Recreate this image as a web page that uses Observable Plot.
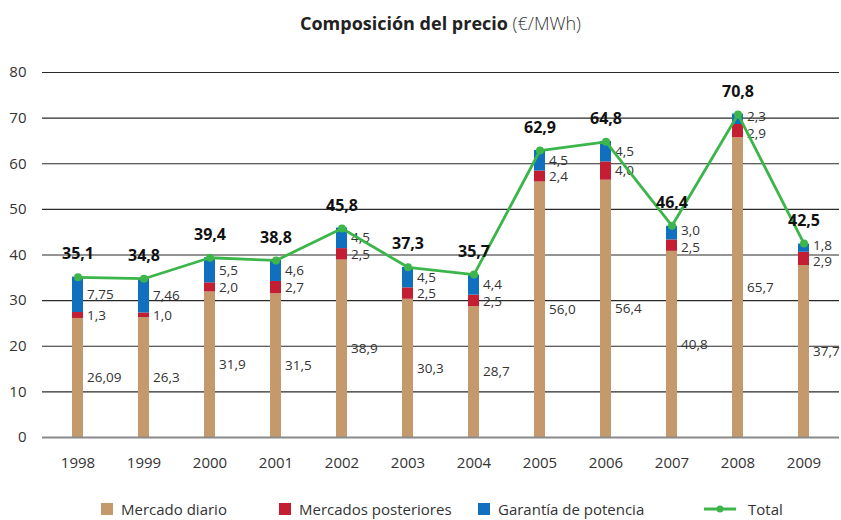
<!DOCTYPE html>
<html>
<head>
<meta charset="utf-8">
<script src="https://cdn.jsdelivr.net/npm/d3@7"></script>
<script src="https://cdn.jsdelivr.net/npm/@observablehq/plot@0.6"></script>
<style>
  body { margin: 0; background: #fff; font-family: "Open Sans", "Noto Sans", sans-serif; color: #222; }
  #title { height: 46px; line-height: 46px; text-align: center; font-size: 18px; color: #222; padding-left: 40px; box-sizing: border-box; width: 841px; }
  #title b { font-weight: 700; }
  #title span { font-weight: 300; color: #333; }
  #legend { position: relative; font-size: 15px; color: #333; height: 34px; }
  .item { position: absolute; display: flex; align-items: center; line-height: 18px; }
  .sw { width: 12px; height: 12px; margin-right: 8px; }
</style>
</head>
<body>
<div id="title"><b>Composición del precio</b> <span>(€/MWh)</span></div>
<div id="chart"></div>
<div id="legend"></div>
<script>
const years = ["1998","1999","2000","2001","2002","2003","2004","2005","2006","2007","2008","2009"];
const mercadoDiario = [26.09, 26.3, 31.9, 31.5, 38.9, 30.3, 28.7, 56.0, 56.4, 40.8, 65.7, 37.7];
const mercadosPosteriores = [1.3, 1.0, 2.0, 2.7, 2.5, 2.5, 2.5, 2.4, 4.0, 2.5, 2.9, 2.9];
const garantiaPotencia = [7.75, 7.46, 5.5, 4.6, 4.5, 4.5, 4.4, 4.5, 4.5, 3.0, 2.3, 1.8];
const total = [35.1, 34.8, 39.4, 38.8, 45.8, 37.3, 35.7, 62.9, 64.8, 46.4, 70.8, 42.5];
const seriesNames = ["Mercado diario", "Mercados posteriores", "Garantía de potencia"];
const seriesColors = ["#c49a6c", "#c41e33", "#1070bf"];
const totalColor = "#3cb54a";
const yTicks = [0, 10, 20, 30, 40, 50, 60, 70, 80];

const fmt = v => (Math.abs(v * 10 - Math.round(v * 10)) < 1e-9 ? v.toFixed(1) : v.toFixed(2)).replace(".", ",");

const seriesValues = [mercadoDiario, mercadosPosteriores, garantiaPotencia];
const segments = [];
const segLabels = [];
const minSep = 3.6; // minimum label separation in €/MWh units
years.forEach((yr, i) => {
  let base = 0;
  const mids = [];
  seriesValues.forEach((arr, s) => {
    const v = arr[i];
    segments.push({year: yr, series: seriesNames[s], y1: base, y2: base + v});
    mids.push(base + v / 2);
    base += v;
  });
  // keep the two upper labels from colliding
  if (mids[2] - mids[1] < minSep) {
    const c = (mids[1] + mids[2]) / 2;
    mids[1] = c - minSep / 2;
    mids[2] = c + minSep / 2;
  }
  seriesValues.forEach((arr, s) => segLabels.push({year: yr, y: mids[s], label: fmt(arr[i])}));
});
const totals = years.map((yr, i) => ({year: yr, total: total[i], label: fmt(total[i])}));

const chart = Plot.plot({
  width: 841,
  height: 440,
  marginLeft: 42,
  marginRight: 2,
  marginTop: 26,
  marginBottom: 49,
  style: {fontFamily: "'Open Sans', 'Noto Sans', sans-serif", fontSize: "15px", color: "#333", background: "#fff"},
  x: {domain: years, paddingInner: 0.835, paddingOuter: 0.4175, label: null, tickSize: 0, tickPadding: 20},
  y: {domain: [0, 80], ticks: yTicks, label: null, tickSize: 0, tickPadding: 16},
  color: {domain: seriesNames, range: seriesColors},
  marks: [
    Plot.ruleY(yTicks.filter(d => d > 0), {stroke: "#2a2a2a", strokeWidth: 1.2}),
    Plot.rectY(segments, {x: "year", y1: "y1", y2: "y2", fill: "series"}),
    Plot.ruleY([0], {stroke: "#8a8a8a", strokeWidth: 2}),
    Plot.text(segLabels, {x: "year", y: "y", text: "label", textAnchor: "start", dx: 9, fill: "#333", fontSize: 13.5}),
    Plot.line(totals, {x: "year", y: "total", stroke: totalColor, strokeWidth: 2.8}),
    Plot.dot(totals, {x: "year", y: "total", fill: totalColor, r: 4}),
    Plot.text(totals, {x: "year", y: "total", text: "label", dy: -23, fontWeight: "bold", fontSize: 16, fill: "#111"})
  ]
});
document.getElementById("chart").appendChild(chart);

const legend = document.getElementById("legend");
const items = [
  {name: seriesNames[0], color: seriesColors[0], left: 101, type: "sw"},
  {name: seriesNames[1], color: seriesColors[1], left: 279, type: "sw"},
  {name: seriesNames[2], color: seriesColors[2], left: 478, type: "sw"},
  {name: "Total", color: totalColor, left: 704, type: "line"}
];
items.forEach(it => {
  const el = document.createElement("div");
  el.className = "item";
  el.style.left = it.left + "px";
  el.style.top = "14px";
  if (it.type === "sw") {
    el.innerHTML = `<div class="sw" style="background:${it.color}"></div><span>${it.name}</span>`;
  } else {
    el.innerHTML = `<svg width="38" height="12" style="margin-right:6px"><line x1="0" x2="32" y1="6" y2="6" stroke="${it.color}" stroke-width="3"/><circle cx="16" cy="6" r="3.5" fill="${it.color}"/></svg><span>${it.name}</span>`;
  }
  legend.appendChild(el);
});
</script>
</body>
</html>
